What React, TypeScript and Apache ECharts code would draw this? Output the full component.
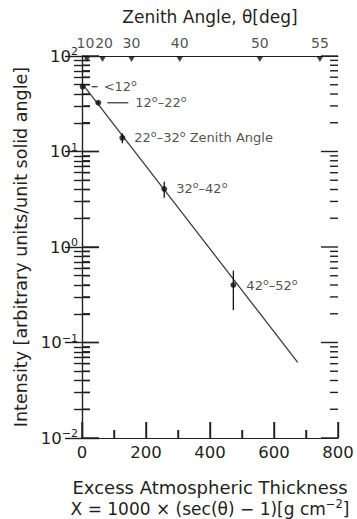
import React, { useEffect, useRef } from 'react';
import * as echarts from 'echarts';

// Measured points (excess atmospheric thickness, g/cm^2) and intensity
const thickness = [2, 51, 126, 257, 473];
const intensity = [47.7, 32.4, 13.9, 4.05, 0.4];
const errLow = [46.5, 31.5, 12.2, 3.28, 0.219];
const errHigh = [49, 33.3, 15.5, 4.83, 0.565];
const bandLabels = ['<12°', '12°–22°', '22°–32° Zenith Angle', '32°–42°', '42°–52°'];

// Fitted exponential line (end points)
const fitX = [0, 674];
const fitI = [51.8, 0.062];

// Top axis: zenith angle ticks (deg)
const zenithDeg = [10, 20, 30, 40, 50, 55];

// Axis ranges and tick values
const xMin = 0;
const xMax = 800;
const yMin = 0.01;
const yMax = 100;
const yMajor = [0.01, 0.1, 1, 10, 100];
const minorMultipliers = [2, 3, 4, 5, 6, 7, 8, 9];
const xMajor = [0, 200, 400, 600, 800];
const xMinor = [100, 300, 500, 700];

const FONT = 'DejaVu Sans';
const INK = '#231f20';
const TICK_W = 1.4;

export default function App() {
  const ref = useRef<HTMLDivElement>(null);
  useEffect(() => {
    if (!ref.current) return;
    const chart = echarts.init(ref.current, null, { renderer: 'svg' });

    const zenithX = zenithDeg.map((d) => 1000 * (1 / Math.cos((d * Math.PI) / 180) - 1));
    const yMinor: number[] = [];
    yMajor.slice(0, -1).forEach((d) => minorMultipliers.forEach((k) => yMinor.push(k * d)));

    const leader = [6, 21, 0, 0, 0];
    const leaderGap = [6, 7, 0, 0, 0];
    const labelDist = [6, 6, 9, 9, 10];
    const topLabelShift = [-1.5, 1.5, 0, 0, 0, 0];

    const toRich = (s: string, i: number) => {
      const body = s
        .split('°')
        .map((part) => (part ? `{t|${part}}` : ''))
        .join('{o|o}');
      const lead = leader[i] > 0 ? `{d${i}|}{g${i}|}` : '';
      return lead + body;
    };

    const rich: any = {
      t: { fontSize: 13, fontFamily: FONT, color: INK, lineHeight: 18 },
      o: { fontSize: 9.5, fontFamily: FONT, color: INK, verticalAlign: 'top', lineHeight: 5 },
    };
    leader.forEach((w, i) => {
      if (w > 0) {
        rich['d' + i] = { width: w, height: 1.4, backgroundColor: INK };
        rich['g' + i] = { width: leaderGap[i], height: 1 };
      }
    });

    const yFmt = (v: number) => {
      const e = Math.round(Math.log10(v));
      return `{b|10}{s|${e < 0 ? '−' + -e : e}}`;
    };
    const yRich = {
      b: { fontSize: 16.5, fontFamily: FONT, color: INK, lineHeight: 20 },
      s: { fontSize: 11, fontFamily: FONT, color: INK, verticalAlign: 'top', lineHeight: 11 },
    };

    const yCommon = {
      type: 'log',
      logBase: 10,
      min: yMin,
      max: yMax,
      axisLine: { show: true, lineStyle: { color: INK, width: 1.2 } },
      axisTick: { show: true, inside: true, length: 17, lineStyle: { color: INK, width: TICK_W } },
      minorTick: { show: true, splitNumber: 9, length: 8, lineStyle: { color: INK, width: TICK_W } },
      splitLine: { show: false },
      minorSplitLine: { show: false },
    };

    const yTickData = [
      ...yMajor.map((v) => [xMin, v, 17]),
      ...yMinor.map((v) => [xMin, v, 8]),
    ];
    const xTickData = [
      ...xMajor.map((v) => [v, yMin, 16]),
      ...xMinor.map((v) => [v, yMin, 8]),
    ];

    chart.setOption({
      animation: false,
      textStyle: { fontFamily: FONT, color: INK },
      grid: {
        left: 82,
        right: 19,
        top: 56,
        bottom: 81,
        containLabel: false,
        outerBoundsMode: 'none',
      },
      xAxis: [
        {
          type: 'value',
          position: 'bottom',
          min: xMin,
          max: xMax,
          interval: 200,
          axisLine: { show: true, onZero: false, lineStyle: { color: INK, width: 1.2 } },
          axisTick: { show: true, inside: true, length: 16, lineStyle: { color: INK, width: TICK_W } },
          minorTick: { show: true, splitNumber: 2, length: 8, lineStyle: { color: INK, width: TICK_W } },
          splitLine: { show: false },
          axisLabel: { fontSize: 16.5, fontFamily: FONT, color: INK, margin: 6 },
          name:
            '{a|Excess Atmospheric Thickness}\n{c|X = 1000 × (sec(θ) − 1)[g cm}{s|−2}{c|]}',
          nameLocation: 'middle',
          nameGap: 39,
          nameTextStyle: {
            rich: {
              a: { fontSize: 18, fontFamily: FONT, color: INK, lineHeight: 21 },
              c: { fontSize: 17, fontFamily: FONT, color: INK, lineHeight: 21 },
              s: { fontSize: 11.5, fontFamily: FONT, color: INK, verticalAlign: 'top', lineHeight: 8 },
            },
          },
        },
        {
          type: 'value',
          position: 'top',
          min: xMin,
          max: xMax,
          axisLine: { show: true, onZero: false, lineStyle: { color: INK, width: 1.2 } },
          axisTick: { show: false },
          axisLabel: { show: false },
          splitLine: { show: false },
          name: 'Zenith Angle, θ[deg]',
          nameLocation: 'middle',
          nameGap: 31,
          nameTextStyle: { fontSize: 17, fontFamily: FONT, color: INK },
        },
      ],
      yAxis: [
        {
          ...yCommon,
          position: 'left',
          axisLabel: { formatter: yFmt, rich: yRich, margin: 4 },
          name: 'Intensity [arbitrary units/unit solid angle]',
          nameLocation: 'middle',
          nameRotate: 90,
          nameGap: 44,
          nameTextStyle: { fontSize: 17.5, fontFamily: FONT, color: INK },
        },
        {
          ...yCommon,
          position: 'right',
          axisLabel: { show: false },
        },
      ],
      series: [
        {
          type: 'line',
          xAxisIndex: 0,
          yAxisIndex: 0,
          data: fitX.map((x, i) => [x, fitI[i]]),
          showSymbol: false,
          symbol: 'none',
          lineStyle: { color: '#333', width: 1.2 },
          z: 2,
        },
        // error bars
        {
          type: 'custom',
          xAxisIndex: 0,
          yAxisIndex: 0,
          data: thickness.map((x, i) => [x, errLow[i], errHigh[i]]),
          encode: { x: 0, y: [1, 2] },
          renderItem: (params: any, api: any) => {
            const x = api.value(0);
            const p1 = api.coord([x, api.value(1)]);
            const p2 = api.coord([x, api.value(2)]);
            return {
              type: 'line',
              shape: { x1: p1[0], y1: p1[1], x2: p2[0], y2: p2[1] },
              style: { stroke: '#111', lineWidth: 1.3 },
            };
          },
          z: 3,
        },
        // y-axis ticks, left and right, pointing inward
        {
          type: 'custom',
          xAxisIndex: 0,
          yAxisIndex: 0,
          data: yTickData,
          encode: { x: 0, y: [1, 2] },
          renderItem: (params: any, api: any) => {
            const v = api.value(1);
            const len = api.value(2);
            const pL = api.coord([xMin, v]);
            const pR = api.coord([xMax, v]);
            return {
              type: 'group',
              children: [
                {
                  type: 'line',
                  shape: { x1: pL[0], y1: pL[1], x2: pL[0] + len, y2: pL[1] },
                  style: { stroke: INK, lineWidth: TICK_W },
                },
                {
                  type: 'line',
                  shape: { x1: pR[0] - len, y1: pR[1], x2: pR[0], y2: pR[1] },
                  style: { stroke: INK, lineWidth: TICK_W },
                },
              ],
            };
          },
          z: 3,
        },
        // x-axis ticks, bottom, pointing inward
        {
          type: 'custom',
          xAxisIndex: 0,
          yAxisIndex: 0,
          data: xTickData,
          encode: { x: 0, y: [1, 2] },
          renderItem: (params: any, api: any) => {
            const x = api.value(0);
            const len = api.value(2);
            const pB = api.coord([x, yMin]);
            return {
              type: 'line',
              shape: { x1: pB[0], y1: pB[1], x2: pB[0], y2: pB[1] - len },
              style: { stroke: INK, lineWidth: TICK_W },
            };
          },
          z: 3,
        },
        {
          type: 'scatter',
          xAxisIndex: 0,
          yAxisIndex: 0,
          symbol: 'circle',
          symbolSize: 6,
          itemStyle: { color: '#111' },
          data: thickness.map((x, i) => ({
            value: [x, intensity[i]],
            label: {
              show: true,
              position: 'right',
              distance: labelDist[i],
              formatter: toRich(bandLabels[i], i),
            },
          })),
          label: {
            fontSize: 13,
            fontFamily: FONT,
            color: INK,
            rich,
          },
          z: 4,
        },
        {
          type: 'scatter',
          xAxisIndex: 0,
          yAxisIndex: 0,
          clip: false,
          symbol: 'triangle',
          symbolRotate: 180,
          symbolSize: [7, 6],
          symbolOffset: [0, 3],
          itemStyle: { color: '#111' },
          data: zenithX.map((x, i) => ({
            value: [x, yMax],
            name: String(zenithDeg[i]),
            label: { offset: [topLabelShift[i], -1] },
          })),
          label: {
            show: true,
            position: 'top',
            distance: 5,
            formatter: '{b}',
            fontSize: 14,
            fontFamily: FONT,
            color: INK,
          },
          z: 5,
        },
      ],
    });
    return () => chart.dispose();
  }, []);
  return (
    <div
      ref={ref}
      style={{ position: 'fixed', left: 0, top: 0, width: 357, height: 519, background: '#fff' }}
    />
  );
}
